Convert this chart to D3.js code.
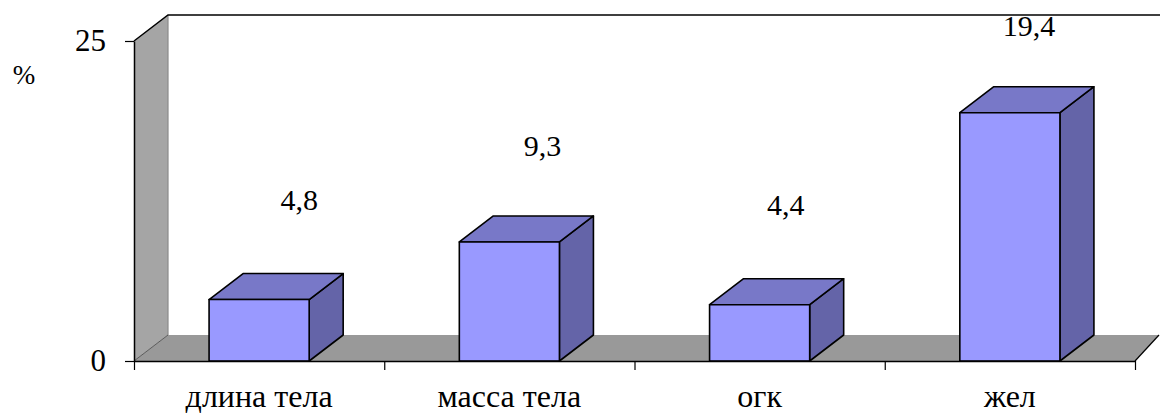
<!DOCTYPE html>
<html>
<head>
<meta charset="utf-8">
<script src="https://cdn.jsdelivr.net/npm/d3@7"></script>
<style>
  body { margin: 0; background: #fff; }
  svg { display: block; }
</style>
</head>
<body>
<svg id="chart" width="1160" height="414"></svg>
<script>
// chart data
const categories = ["длина тела", "масса тела", "огк", "жел"];
const values = [4.8, 9.3, 4.4, 19.4];
const valueLabels = ["4,8", "9,3", "4,4", "19,4"];
const yTicks = [0, 25];
const yUnit = "%";

// layout
const plotLeft = 134, plotRight = 1135, plotTop = 41, plotBottom = 361;
const dx = 34, dy = -26; // depth of the 3d box
const fontName = "'Liberation Serif'";

const colors = {
  front: "#9999ff",
  top: "#7878c8",
  side: "#6464a8",
  wall: "#a5a5a5",
  floor: "#999999"
};

const svg = d3.select("#chart");

const y = d3.scaleLinear().domain([0, 25]).range([plotBottom, plotTop]);
const x = d3.scaleBand().domain(categories).range([plotLeft, plotRight])
  .paddingInner(0.6).paddingOuter(0.3);
const xEdges = d3.scaleLinear().domain([0, categories.length]).range([plotLeft, plotRight]);

const pts = arr => arr.map(p => p.join(",")).join(" ");

// side wall
svg.append("polygon")
  .attr("points", pts([[plotLeft, y(25)], [plotLeft + dx, y(25) + dy], [plotLeft + dx, plotBottom + dy], [plotLeft, plotBottom]]))
  .attr("fill", colors.wall)
  .attr("stroke", "none");

// floor (right end is cut by the picture edge)
svg.append("polygon")
  .attr("points", pts([[plotLeft, plotBottom], [plotRight, plotBottom], [plotRight + 24, plotBottom + dy], [plotLeft + dx, plotBottom + dy]]))
  .attr("fill", colors.floor)
  .attr("stroke", "none");

// wall edges
svg.append("line")
  .attr("x1", plotLeft + dx).attr("y1", y(25) + dy)
  .attr("x2", plotLeft + dx).attr("y2", plotBottom + dy)
  .attr("stroke", "#8a8a8a").attr("stroke-width", 1.2);
svg.append("line")
  .attr("x1", plotLeft).attr("y1", plotBottom)
  .attr("x2", plotLeft + dx).attr("y2", plotBottom + dy)
  .attr("stroke", "#444").attr("stroke-width", 0.8);
svg.append("line")
  .attr("x1", plotRight).attr("y1", plotBottom)
  .attr("x2", plotRight + 24).attr("y2", plotBottom + dy)
  .attr("stroke", "#000").attr("stroke-width", 1.2);
svg.append("polyline")
  .attr("points", pts([[plotLeft, y(25)], [plotLeft + dx, y(25) + dy], [plotRight + dx + 40, y(25) + dy]]))
  .attr("fill", "none")
  .attr("stroke", "#000").attr("stroke-width", 1.5);

// bars
const bars = svg.append("g").selectAll("g")
  .data(values)
  .join("g");

bars.each(function(d, i) {
  const g = d3.select(this);
  const x0 = x(categories[i]), x1 = x0 + x.bandwidth();
  const yt = y(d), yb = y(0);
  g.append("polygon")
    .attr("points", pts([[x1, yb], [x1 + dx, yb + dy], [x1 + dx, yt + dy], [x1, yt]]))
    .attr("fill", colors.side);
  g.append("polygon")
    .attr("points", pts([[x0, yt], [x0 + dx, yt + dy], [x1 + dx, yt + dy], [x1, yt]]))
    .attr("fill", colors.top);
  g.append("rect")
    .attr("x", x0).attr("y", yt)
    .attr("width", x.bandwidth()).attr("height", yb - yt)
    .attr("fill", colors.front);
  g.selectAll("polygon, rect")
    .attr("stroke", "#000").attr("stroke-width", 1.6).attr("stroke-linejoin", "round");
});

// value labels (excel puts them a bit off in perspective)
svg.append("g").selectAll("text")
  .data(values)
  .join("text")
  .attr("x", (d, i) => x(categories[i]) + x.bandwidth() / 2 + 40 - 7 * i)
  .attr("y", d => y(d) - 94 + 0.9 * d)
  .attr("text-anchor", "middle")
  .style("font-family", fontName)
  .style("font-size", "30px")
  .text((d, i) => valueLabels[i]);

// y axis
const yAxis = svg.append("g")
  .attr("transform", `translate(${plotLeft},0)`)
  .call(d3.axisLeft(y).tickValues(yTicks).tickSize(9).tickSizeOuter(0).tickPadding(19).tickFormat(d => d));
yAxis.select(".domain").attr("stroke", "#000").attr("stroke-width", 1.5);
yAxis.selectAll(".tick line").attr("stroke", "#000").attr("stroke-width", 1.2);
yAxis.selectAll("text")
  .style("font-family", fontName)
  .style("font-size", "31px")
  .attr("fill", "#000");

// x axis, ticks between categories
const xAxis = svg.append("g")
  .attr("transform", `translate(0,${plotBottom})`)
  .call(d3.axisBottom(xEdges).ticks(categories.length).tickSize(9).tickSizeOuter(0).tickFormat(""));
xAxis.select(".domain").attr("stroke", "#000").attr("stroke-width", 1.5);
xAxis.selectAll(".tick line").attr("stroke", "#000").attr("stroke-width", 1.2);

svg.append("g").selectAll("text")
  .data(categories)
  .join("text")
  .attr("x", d => x(d) + x.bandwidth() / 2)
  .attr("y", 407)
  .attr("text-anchor", "middle")
  .style("font-family", fontName)
  .style("font-size", "32px")
  .text(d => d);

// unit label
svg.append("text")
  .attr("x", 24).attr("y", 84)
  .attr("text-anchor", "middle")
  .style("font-family", fontName)
  .style("font-size", "27px")
  .text(yUnit);
</script>
</body>
</html>
